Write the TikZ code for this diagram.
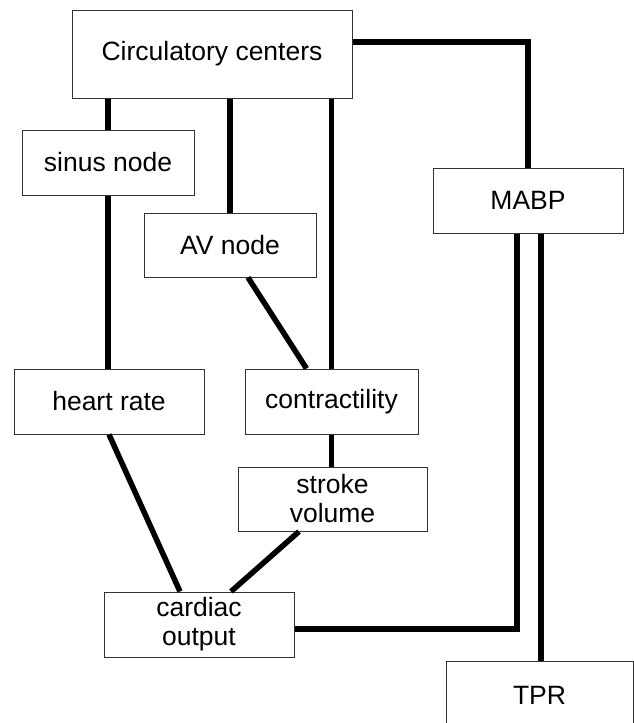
\documentclass[tikz,border=0pt]{standalone}
\usepackage{fontspec}
\setmainfont{Liberation Sans}
\begin{document}
\begin{tikzpicture}[x=1pt,y=-1pt,
  box/.style={draw=black!80,line width=1pt,rectangle,inner sep=0pt,align=center,
    font=\fontsize{26.5}{29}\selectfont},
  link/.style={line width=5.5pt,line join=miter}]
\clip (0,0) rectangle (634,723);
\fill[white] (0,0) rectangle (634,723);
\node[box,minimum width=280,minimum height=88] (cc) at (212,54) {Circulatory centers};
\node[box,minimum width=190,minimum height=65] (mabp) at (528,200.5) {MABP};
\node[box,minimum width=172,minimum height=65] (sinus) at (108,162.5) {sinus node};
\node[box,minimum width=172,minimum height=64] (av) at (230,245) {AV node};
\node[box,minimum width=190,minimum height=65] (hr) at (109,401.5) {heart rate};
\node[box,minimum width=173,minimum height=65] (con) at (331.5,401.5) {contractility};
\node[box,minimum width=189,minimum height=64] (sv) at (332.5,499) {stroke\\volume};
\node[box,minimum width=190,minimum height=65] (co) at (199,624.5) {cardiac\\output};
\node[box,minimum width=187,minimum height=68] (tpr) at (539.5,695) {TPR};
\draw[link] ([yshift=12pt]cc.east) -| (mabp.north);
\draw[link] (sinus.north |- cc.south) -- (sinus.north);
\draw[link] (sinus.south) -- (sinus.south |- hr.north);
\draw[link] (av.north |- cc.south) -- (av.north);
\draw[link] (con.north |- cc.south) -- (con.north);
\draw[link] ([xshift=18pt]av.south) -- ([xshift=-25pt]con.north);
\draw[link] (con.south) -- (con.south |- sv.north);
\draw[link] ([xshift=-33.5pt]sv.south) -- ([xshift=32pt]co.north);
\draw[link] (hr.south) -- ([xshift=-19pt]co.north);
\draw[link] ([yshift=-4.5pt]co.east) -| ([xshift=-11pt]mabp.south);
\draw[link] ([xshift=13pt]mabp.south) -- ([xshift=13pt]mabp.south |- tpr.north);
\end{tikzpicture}
\end{document}
